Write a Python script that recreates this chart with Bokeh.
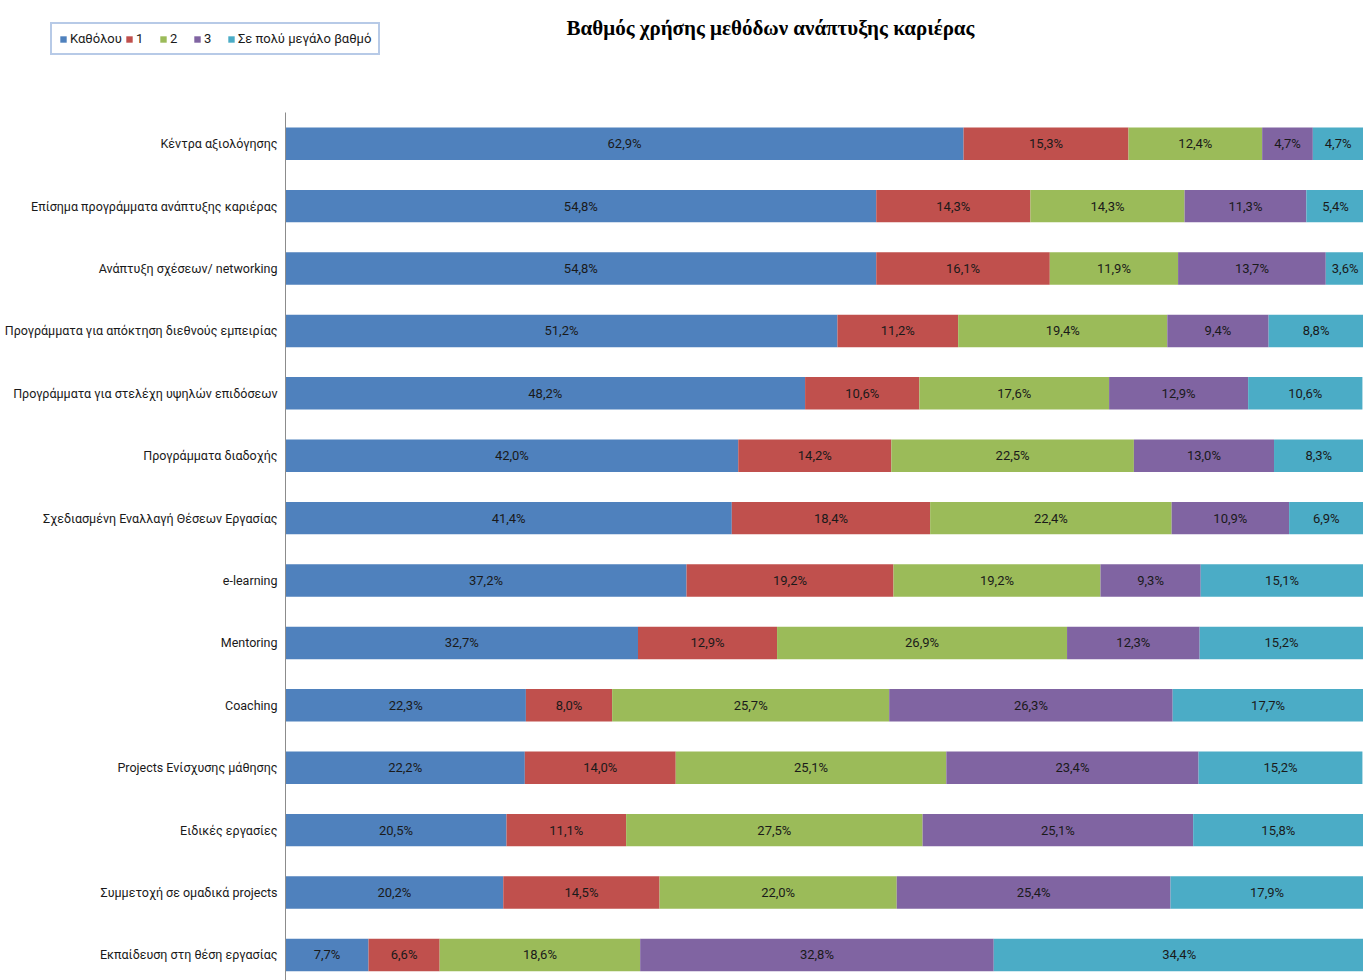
from bokeh.plotting import figure
from bokeh.models import (ColumnDataSource, Range1d, LabelSet, Label,
                          Legend, LegendItem)
from bokeh.core.properties import value
from bokeh.embed import file_html
from bokeh.resources import INLINE

categories = [
    "Κέντρα αξιολόγησης",
    "Επίσημα προγράμματα ανάπτυξης καριέρας",
    "Ανάπτυξη σχέσεων/ networking",
    "Προγράμματα για απόκτηση διεθνούς εμπειρίας",
    "Προγράμματα για στελέχη υψηλών επιδόσεων",
    "Προγράμματα διαδοχής",
    "Σχεδιασμένη Εναλλαγή Θέσεων Εργασίας",
    "e-learning",
    "Mentoring",
    "Coaching",
    "Projects Ενίσχυσης μάθησης",
    "Ειδικές εργασίες",
    "Συμμετοχή σε ομαδικά projects",
    "Εκπαίδευση στη θέση εργασίας",
]
series_names = ["Καθόλου", "1", "2", "3", "Σε πολύ μεγάλο βαθμό"]
kathólou = [62.9, 54.8, 54.8, 51.2, 48.2, 42.0, 41.4, 37.2, 32.7, 22.3, 22.2, 20.5, 20.2, 7.7]
level1 = [15.3, 14.3, 16.1, 11.2, 10.6, 14.2, 18.4, 19.2, 12.9, 8.0, 14.0, 11.1, 14.5, 6.6]
level2 = [12.4, 14.3, 11.9, 19.4, 17.6, 22.5, 22.4, 19.2, 26.9, 25.7, 25.1, 27.5, 22.0, 18.6]
level3 = [4.7, 11.3, 13.7, 9.4, 12.9, 13.0, 10.9, 9.3, 12.3, 26.3, 23.4, 25.1, 25.4, 32.8]
very_high = [4.7, 5.4, 3.6, 8.8, 10.6, 8.3, 6.9, 15.1, 15.2, 17.7, 15.2, 15.8, 17.9, 34.4]
colors = ["#4F81BD", "#C0504D", "#9BBB59", "#8064A2", "#4BACC6"]
title_text = "Βαθμός χρήσης μεθόδων ανάπτυξης καριέρας"

series = [kathólou, level1, level2, level3, very_high]
keys = ["s0", "s1", "s2", "s3", "s4"]
ypos = list(range(len(categories)))

data = {"y": ypos, "cat": categories, "zero": [0] * len(categories)}
for k, s in zip(keys, series):
    data[k] = s
src = ColumnDataSource(data)

FONT = "Roboto"
W, H = 1363, 980
PLOT_LEFT = 285          # pixel where 0 % sits
PLOT_TOP = 112           # pixel where category band starts
x_start = -100.0 * PLOT_LEFT / (W - PLOT_LEFT)
band = (H - PLOT_TOP) / 13.91      # pixels per category
y_top = -0.5 - PLOT_TOP / band
y_bottom = y_top + H / band

p = figure(width=W, height=H, output_backend="svg", toolbar_location=None,
           x_range=Range1d(x_start, 100), y_range=Range1d(y_bottom, y_top),
           x_axis_location=None, y_axis_location=None, min_border=0)
p.outline_line_color = None
p.xgrid.visible = False
p.ygrid.visible = False

renderers = p.hbar_stack(keys, y="y", height=0.52, color=colors, line_color=None, source=src)

# category axis line
p.segment(x0=[0], y0=[-0.5], x1=[0], y1=[y_bottom], line_color="#8c8c8c", line_width=1)

# category labels
p.add_layout(LabelSet(x="zero", y="y", text="cat", source=src, x_offset=-8,
                      text_align="right", text_baseline="middle",
                      text_font=value(FONT), text_font_size="12.5px",
                      text_color="#1a1a1a"))

# data labels
lx, ly, lt = [], [], []
for i in range(len(categories)):
    left = 0.0
    for s in series:
        v = s[i]
        lx.append(left + v / 2)
        ly.append(i)
        lt.append(("%.1f" % v).replace(".", ",") + "%")
        left += v
lsrc = ColumnDataSource(dict(x=lx, y=ly, t=lt))
p.add_layout(LabelSet(x="x", y="y", text="t", source=lsrc, text_align="center",
                      text_baseline="middle", text_font=value(FONT),
                      text_font_size="13px", text_color="#1a1a1a"))

# title
p.add_layout(Label(x=770, y=H - 27, x_units="screen", y_units="screen",
                   text=title_text, text_align="center", text_baseline="middle",
                   text_font="Liberation Serif", text_font_style="bold",
                   text_font_size="21px", text_color="black"))

legend = Legend(items=[LegendItem(label=n, renderers=[r]) for n, r in zip(series_names, renderers)],
                orientation="horizontal", location=(50, H - 55),
                glyph_width=8, glyph_height=8, label_standoff=3, spacing=3,
                padding=7, margin=0, border_line_color="#7095CF", border_line_width=2,
                label_text_font=FONT, label_text_font_size="13px",
                label_text_color="#1a1a1a", label_height=14)
p.add_layout(legend)

open("out.html", "w").write(file_html(p, INLINE))
